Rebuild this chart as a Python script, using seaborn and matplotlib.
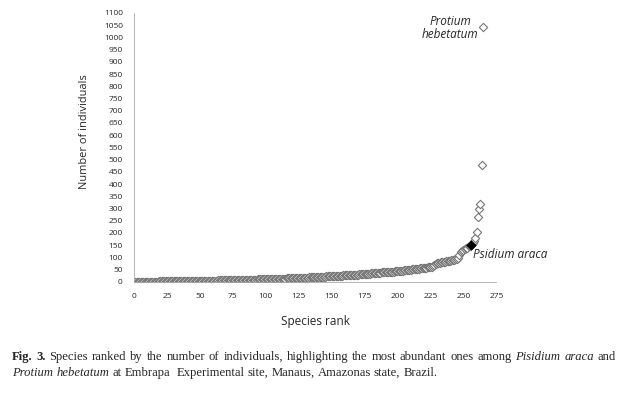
import matplotlib.pyplot as plt
import numpy as np
import pandas as pd
import seaborn as sns

# abundance classes for the rare species (value, number of species)
low_values = [1, 2, 3, 4, 5, 6, 7, 8, 9, 10, 11, 12, 13, 14, 15, 16, 17, 18, 19, 20, 21, 22]
low_counts = [18, 14, 12, 10, 9, 8, 8, 7, 7, 6, 6, 5, 5, 5, 4, 4, 4, 4, 3, 3, 3, 3]

# remaining species, ascending
tail_values = [
    22, 23, 23, 23, 24, 24, 24, 25, 25, 25,
    26, 26, 26, 27, 27, 27, 28, 28, 28, 29,
    29, 29, 30, 30, 31, 31, 31, 32, 32, 33,
    33, 34, 34, 35, 35, 36, 36, 37, 37, 38,
    38, 39, 39, 40, 40, 41, 41, 42, 42, 43,
    43, 44, 44, 45, 46, 46, 47, 48, 48, 49,
    50, 50, 51, 52, 52, 53, 54, 54, 55, 56,
    56, 57, 58, 58, 59, 60, 61, 62, 66, 70,
    73, 75, 77, 78, 79, 80, 81, 82, 84, 85,
    86, 87, 88, 89, 90, 92, 94, 97, 110, 122,
    126, 130, 133, 137, 140, 145, 148, 152, 160, 168, 178,
    205, 264, 298, 318, 476, 1041,
]

highlight_rank = 256  # Psidium araca

abund = list(np.repeat(low_values, low_counts)) + tail_values
df = pd.DataFrame({"rank": np.arange(1, len(abund) + 1), "n": abund})
hl = df[df["rank"] == highlight_rank]

sns.set_style("white")
fig = plt.figure(figsize=(6.29, 3.93), dpi=100)
ax = fig.add_axes([0.213, 0.283, 0.576, 0.684])

sns.scatterplot(data=df, x="rank", y="n", marker="D", s=18, facecolor="white",
                edgecolor="#777777", linewidth=0.8, ax=ax)
sns.scatterplot(data=hl, x="rank", y="n", marker="D", s=24, color="black",
                edgecolor="black", ax=ax)

ax.set_xlim(0, 275)
ax.set_ylim(0, 1100)
ax.set_xticks(range(0, 276, 25))
ax.set_yticks(range(0, 1101, 50))
ax.tick_params(labelsize=6, length=3, width=0.6, color="#aaaaaa", pad=5)
for lab in ax.get_xticklabels() + ax.get_yticklabels():
    lab.set_family("Open Sans")
sns.despine(ax=ax)
for s in ["left", "bottom"]:
    ax.spines[s].set_color("#aaaaaa")
    ax.spines[s].set_linewidth(0.6)

ax.set_xlabel("Species rank", fontsize=8.5, family="Open Sans", labelpad=11)
ax.set_ylabel("Number of individuals", fontsize=7.9, family="Open Sans")
ax.yaxis.set_label_coords(-0.121, 0.557)

ax.text(240, 1040, "Protium\nhebetatum", fontsize=8.5, family="Open Sans",
        style="italic", ha="center", va="center", linespacing=1.0)
ax.text(257, 112, "Psidium araca", fontsize=8.5, family="Open Sans",
        style="italic", ha="left", va="center")

# caption, drawn word by word (first line justified)
fig.canvas.draw()
renderer = fig.canvas.get_renderer()
W = fig.bbox.width


def words_of(runs):
    out = []
    for txt, kw in runs:
        for w in txt.split():
            out.append((w, kw))
    return out


def draw_line(runs, x0, x1, y0, justify):
    words = words_of(runs)
    arts = [fig.text(0, y0, w, fontsize=9.1, family="Liberation Serif",
                     va="baseline", **kw) for w, kw in words]
    widths = [a.get_window_extent(renderer).width for a in arts]
    space = fig.text(0, 0, "a a", fontsize=9.1, family="Liberation Serif")
    sp = space.get_window_extent(renderer).width
    aa = fig.text(0, 0, "aa", fontsize=9.1, family="Liberation Serif")
    sp -= aa.get_window_extent(renderer).width
    space.remove()
    aa.remove()
    if justify:
        gap = (x1 - x0 - sum(widths)) / (len(words) - 1)
    else:
        gap = sp
    x = x0
    for a, w, (txt, _) in zip(arts, widths, words):
        a.set_x(x / W)
        x += w + gap
        if txt == "Embrapa":
            x += sp


draw_line([
    ("Fig. 3.", {"weight": "bold"}),
    (" Species ranked by the number of individuals, highlighting the most abundant ones among ", {}),
    ("Pisidium araca", {"style": "italic"}),
    (" and", {}),
], 12, 616, 1 - 360 / 393, True)
draw_line([
    ("Protium hebetatum", {"style": "italic"}),
    (" at Embrapa Experimental site, Manaus, Amazonas state, Brazil.", {}),
], 12, 616, 1 - 376 / 393, False)

fig.savefig("out.png", dpi=100)
